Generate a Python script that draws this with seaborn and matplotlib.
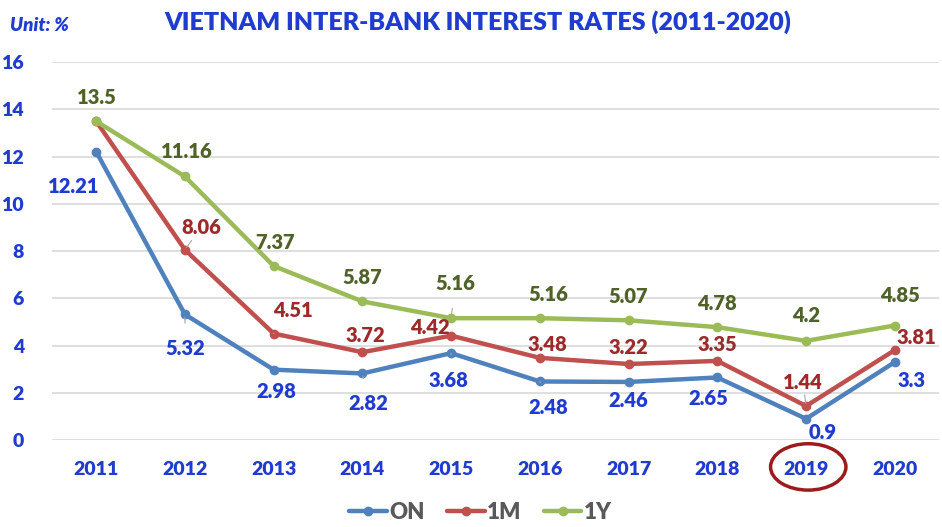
import pandas as pd
import matplotlib.pyplot as plt
import seaborn as sns
from matplotlib.patches import Ellipse

# --- datos ---
years = [2011, 2012, 2013, 2014, 2015, 2016, 2017, 2018, 2019, 2020]
rate_on = [12.21, 5.32, 2.98, 2.82, 3.68, 2.48, 2.46, 2.65, 0.9, 3.3]
rate_1m = [13.5, 8.06, 4.51, 3.72, 4.42, 3.48, 3.22, 3.35, 1.44, 3.81]
rate_1y = [13.5, 11.16, 7.37, 5.87, 5.16, 5.16, 5.07, 4.78, 4.2, 4.85]
series_names = ["ON", "1M", "1Y"]

df = pd.DataFrame({
    "year": years * 3,
    "rate": rate_on + rate_1m + rate_1y,
    "series": [s for s in series_names for _ in years],
})

# --- estilo ---
sns.set_style("white")
plt.rcParams['font.family'] = ['Lato', 'DejaVu Sans']
plt.rcParams['font.weight'] = 'heavy'

line_colors = {"ON": "#4f81bd", "1M": "#c0504d", "1Y": "#9bbb59"}
label_colors = {"ON": "#1f3ccf", "1M": "#9c2a2a", "1Y": "#4f6228"}
blue = "#1f3ccf"

fig = plt.figure(figsize=(9.42, 5.27), dpi=100)
ax = fig.add_axes([0.055, 0.165, 0.942, 0.717])

sns.lineplot(data=df, x="year", y="rate", hue="series", palette=line_colors,
             marker="o", markersize=7, markeredgewidth=0, linewidth=3.2,
             ax=ax, legend=True)

ax.set_xlim(2010.5, 2020.5)
ax.set_ylim(0, 16)
ax.set_yticks(range(0, 17, 2))
ax.set_xticks(years)
ax.set_xticklabels([str(y) for y in years])
ax.set_xlabel("")
ax.set_ylabel("")
ax.grid(axis="y", color="#d9d9d9", linewidth=1.2)
ax.set_axisbelow(True)
for s in ax.spines.values():
    s.set_visible(False)
ax.tick_params(axis="both", length=0, labelsize=14, labelcolor=blue)
ax.tick_params(axis="y", pad=20)
ax.tick_params(axis="x", pad=15)
for lbl in ax.get_xticklabels() + ax.get_yticklabels():
    lbl.set_fontweight("heavy")

# --- etiquetas de datos (desplazamientos en pixeles) ---
offsets = {
    "ON": [(-22, -35), (0, -34), (3, -22), (6, -30), (-3, -27),
           (8, -26), (0, -19), (-9, -21), (17, -14), (17, -18)],
    "1M": [None, (16, 22), (19, 23), (3, 17), (-21, 8),
           (8, 13), (0, 17), (0, 16), (-3, 24), (22, 13)],
    "1Y": [(1, 24), (2, 25), (1, 23), (0, 24), (4, 35),
           (8, 24), (0, 24), (0, 24), (0, 25), (5, 30)],
}
leaders = {("ON", 1), ("ON", 3), ("ON", 4), ("ON", 5), ("1M", 1),
           ("1M", 2), ("1M", 8), ("1Y", 4)}
values = {"ON": rate_on, "1M": rate_1m, "1Y": rate_1y}

for name in series_names:
    for i, (yr, v) in enumerate(zip(years, values[name])):
        off = offsets[name][i]
        if off is None:
            continue
        arrow = None
        if (name, i) in leaders:
            arrow = dict(arrowstyle="-", color="#a6a6a6", lw=0.8,
                         shrinkA=9, shrinkB=2)
        ax.annotate(f"{v:g}", (yr, v), xytext=off, textcoords="offset pixels",
                    ha="center", va="center", fontsize=14.5, fontweight="heavy",
                    color=label_colors[name], arrowprops=arrow)

# --- titulo y unidad ---
fig.text(0.507, 0.958, "VIETNAM INTER-BANK INTEREST RATES (2011-2020)",
         ha="center", va="center", fontsize=18, fontweight="heavy", color=blue)
fig.text(0.011, 0.952, "Unit: %", ha="left", va="center", fontsize=13.5,
         fontweight="heavy", fontstyle="italic", color=blue)

# --- leyenda ---
handles, labels = ax.get_legend_handles_labels()
ax.get_legend().remove()
fig.legend(handles, labels, loc="center", bbox_to_anchor=(0.51, 0.028), ncol=3,
           frameon=False, handlelength=1.7, handletextpad=0.1, columnspacing=1.0,
           prop={"weight": "heavy", "size": 16}, labelcolor="#595959")

# --- circulo en 2019 ---
circle = Ellipse((0.858, 0.114), 0.080, 0.088, transform=fig.transFigure,
                 fill=False, edgecolor="#9b1c1c", linewidth=2.5)
fig.add_artist(circle)

fig.savefig("out.png", dpi=100)
